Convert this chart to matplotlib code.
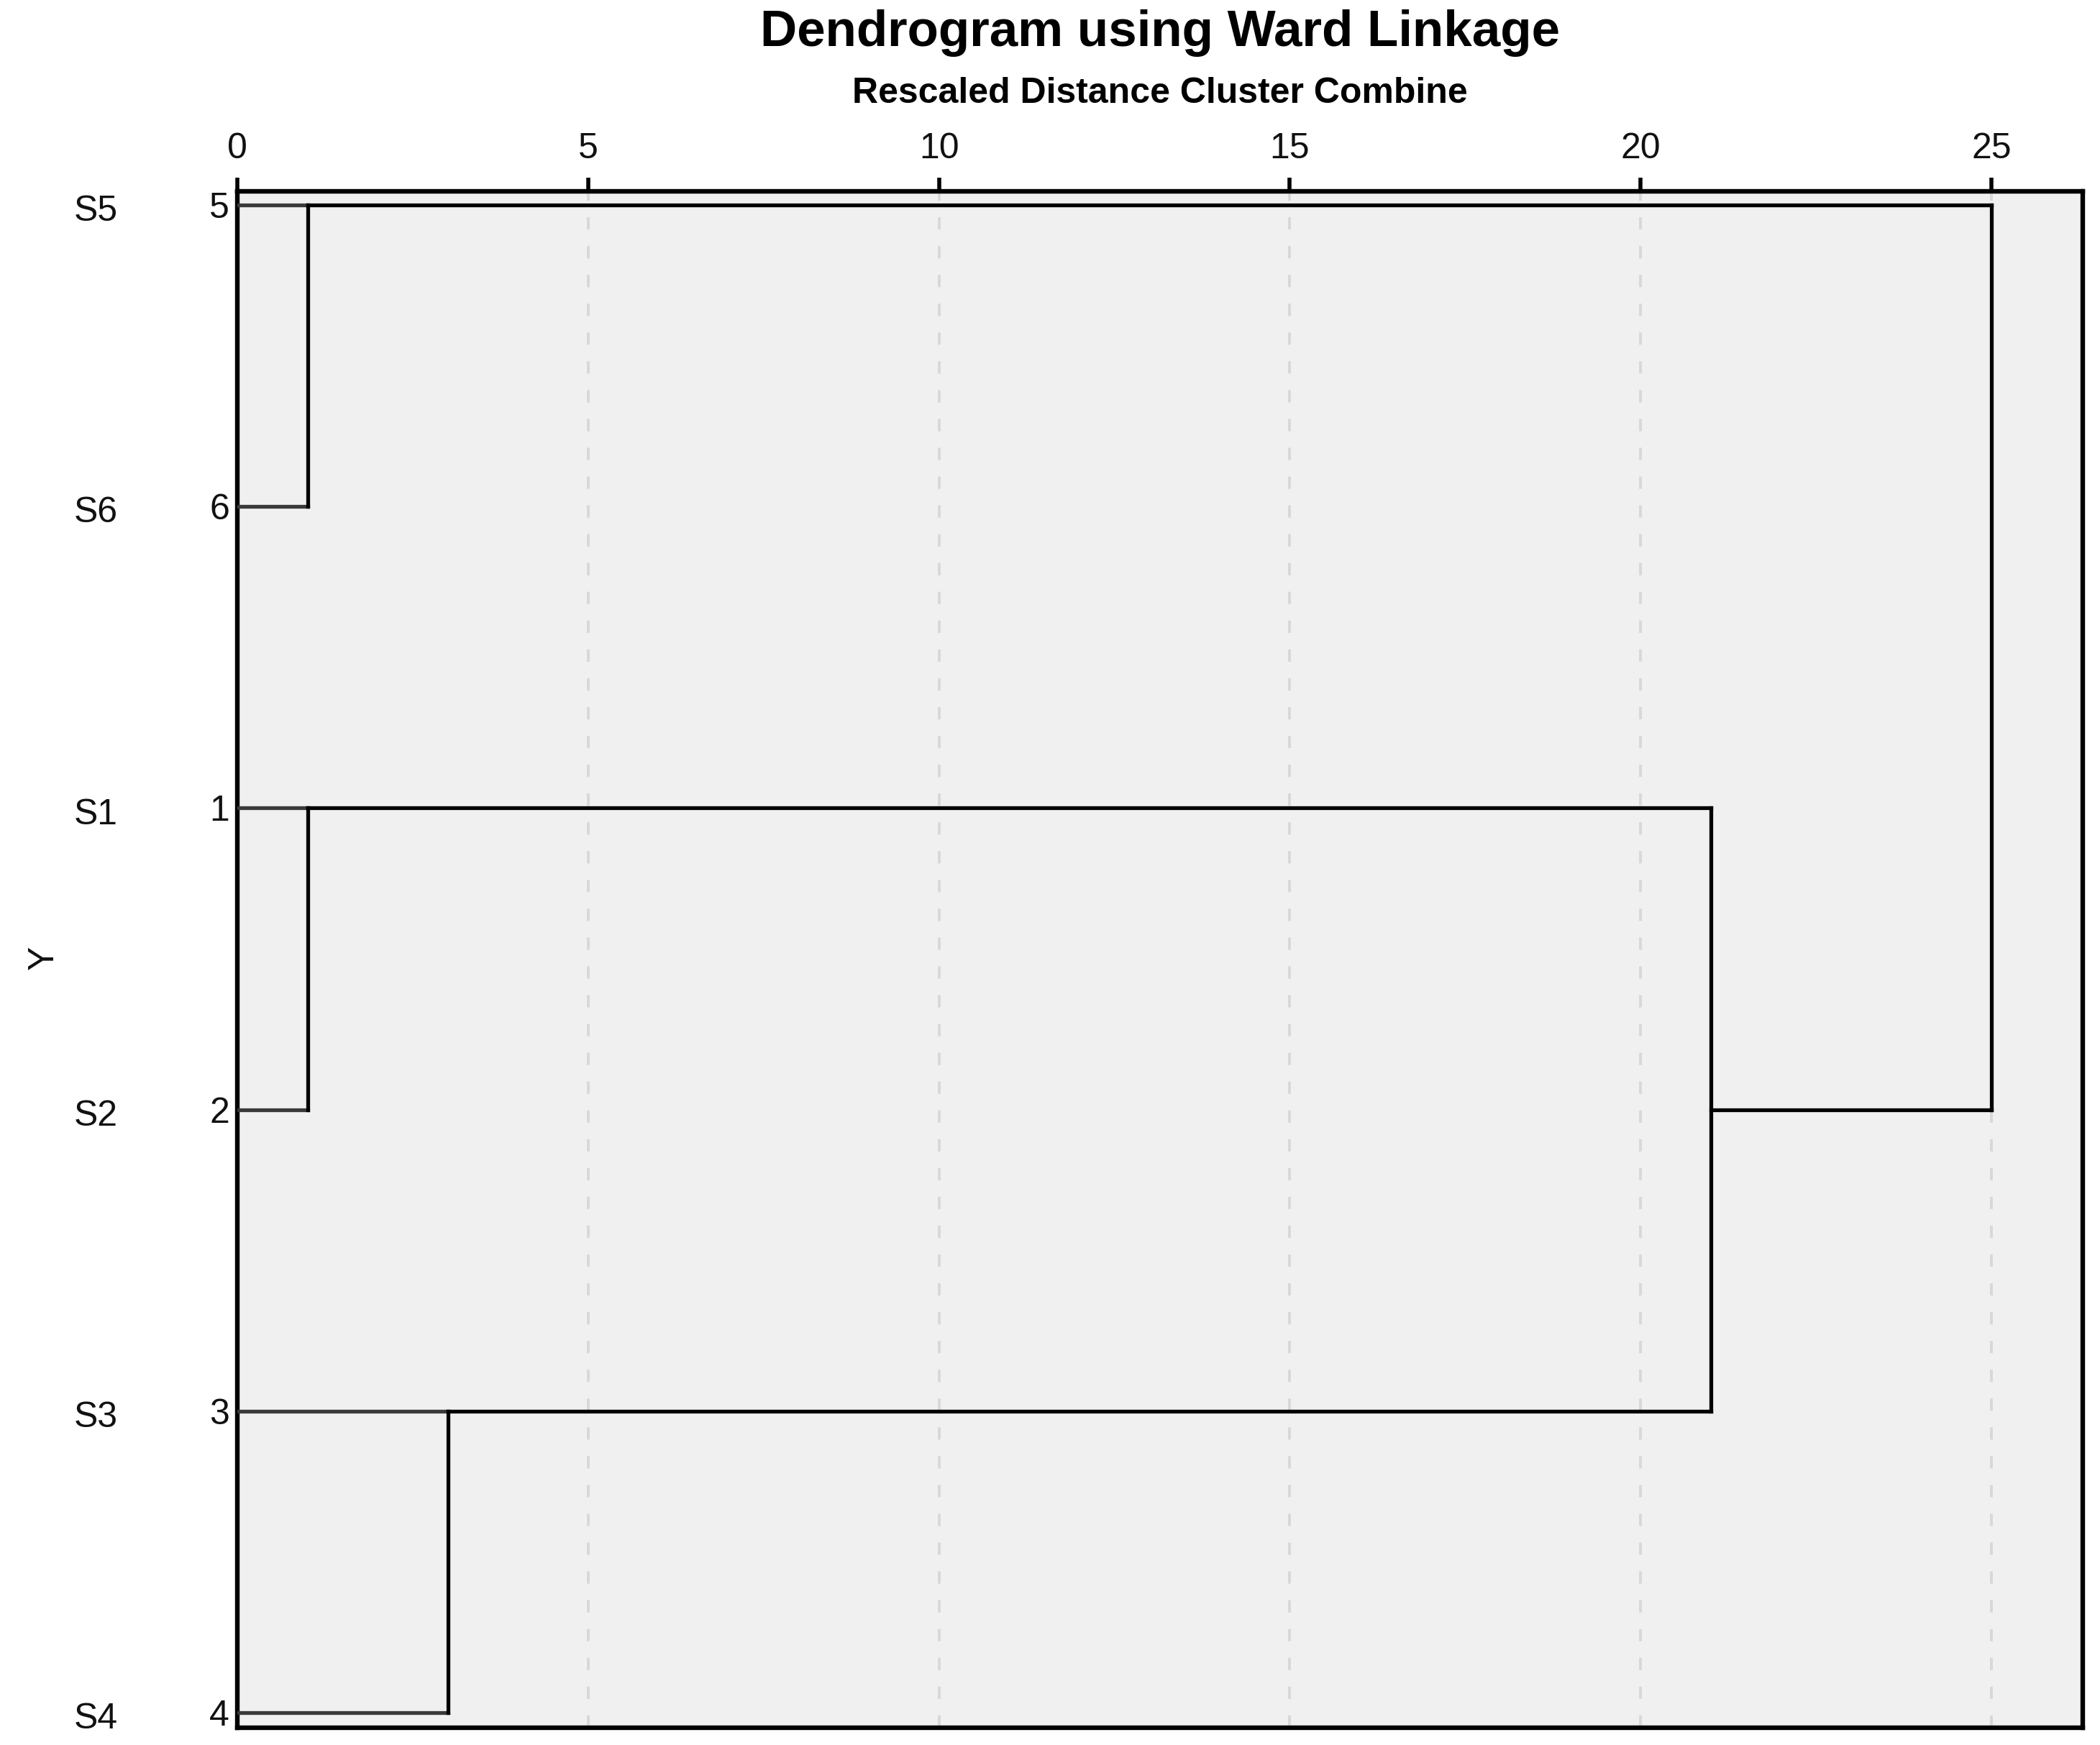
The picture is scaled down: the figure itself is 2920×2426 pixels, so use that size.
import matplotlib
matplotlib.use("Agg")
import matplotlib.pyplot as plt
from matplotlib.transforms import blended_transform_factory

plt.rcParams['font.family'] = ['Liberation Sans', 'DejaVu Sans']

# ---- data ----
row_labels = ['S5', 'S6', 'S1', 'S2', 'S3', 'S4']
case_numbers = ['5', '6', '1', '2', '3', '4']
# merges: (child a, child b, rescaled distance); leaves are rows 0..5,
# new clusters get indices 6, 7, ...
merge_a = [0, 2, 4, 7, 6]
merge_b = [1, 3, 5, 8, 9]
merge_height = [1, 1, 3, 21, 25]
x_ticks = [0, 5, 10, 15, 20, 25]

title = 'Dendrogram using Ward Linkage'
subtitle = 'Rescaled Distance Cluster Combine'

# ---- figure ----
W, H = 2920, 2426
dpi = 200
fig = plt.figure(figsize=(W / dpi, H / dpi), dpi=dpi)
left, right, top, bottom = 330, 2896, 266, 2402
ax = fig.add_axes([left / W, 1 - bottom / H, (right - left) / W, (bottom - top) / H])
ax.set_facecolor('#f0f0f0')

n = len(row_labels)
ax.set_xlim(0, 26.3)
ax.set_ylim(n - 1 + 0.05, -0.045)

# grid lines
for t in x_ticks[1:]:
    ax.axvline(t, color='#d8d8d8', lw=1.4, dashes=(4.4, 5.9), zorder=1)

# build node positions
node_y = {i: float(i) for i in range(n)}
node_x = {i: 0.0 for i in range(n)}
lw = 1.9
for k, (a, b, h) in enumerate(zip(merge_a, merge_b, merge_height)):
    for c in (a, b):
        col = '#3a3a3a' if c < n else 'black'
        ax.plot([node_x[c], h], [node_y[c], node_y[c]], color=col, lw=lw,
                solid_capstyle='projecting', zorder=3)
    ax.plot([h, h], [node_y[a], node_y[b]], color='black', lw=lw,
            solid_capstyle='projecting', zorder=3)
    new = n + k
    node_x[new] = h
    node_y[new] = float(int((node_y[a] + node_y[b]) / 2))

# axes styling
for s in ax.spines.values():
    s.set_linewidth(2.3)
    s.set_color('black')
ax.xaxis.tick_top()
ax.set_xticks(x_ticks)
ax.set_xticklabels([str(t) for t in x_ticks], fontsize=18, color='#111111')
ax.tick_params(axis='x', direction='out', length=7, width=2.0, pad=6)
ax.set_yticks(range(n))
ax.set_yticklabels(case_numbers, fontsize=18, color='#111111')
ax.tick_params(axis='y', length=0, pad=4)

trans = blended_transform_factory(fig.transFigure, ax.transData)
for i, lab in enumerate(row_labels):
    ax.text(133 / W, i + 0.022, lab, transform=trans, ha='center', va='center',
            fontsize=18, color='#111111')

fig.text(61 / W, 1 - 1331 / H, 'Y', rotation=90, ha='center', va='center',
         fontsize=18, color='#111111')

cx = (left + right) / 2 / W
fig.text(cx, 1 - 46 / H, title, ha='center', va='center', fontsize=25.5,
         fontweight='bold')
fig.text(cx, 1 - 130 / H, subtitle, ha='center', va='center', fontsize=18,
         fontweight='bold')

fig.savefig('out.png', dpi=dpi)
